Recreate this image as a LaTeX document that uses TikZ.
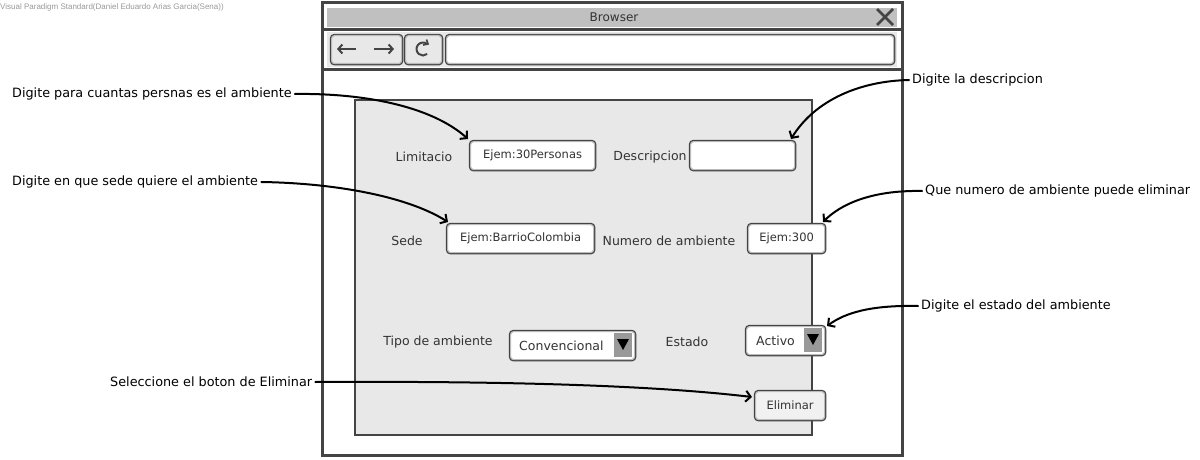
\documentclass[tikz,border=0pt]{standalone}
\usepackage{fontspec}
\setmainfont{DejaVu Sans}
\newfontfamily\wmfont{Liberation Sans}
\usetikzlibrary{arrows.meta}
\definecolor{frame}{HTML}{444444}
\definecolor{panel}{HTML}{E8E8E8}
\definecolor{titlebar}{HTML}{C0C0C0}
\definecolor{lightb}{HTML}{BBBBBB}
\definecolor{txt}{HTML}{333333}
\definecolor{ddgray}{HTML}{999999}
\begin{document}
\begin{tikzpicture}[x=1pt,y=-1pt,
  fld/.style={draw=lightb, line width=1.2pt, rounded corners=3pt, fill=white,
    preaction={draw=frame, line width=3.6pt}, inner sep=0pt, anchor=north west},
  lbl/.style={font=\fontsize{12.5}{15}\selectfont, text=txt, inner sep=1pt},
  ftxt/.style={font=\fontsize{11.5}{14}\selectfont, text=txt, inner sep=1pt},
  note/.style={font=\fontsize{12.8}{15}\selectfont, text=black, inner sep=3pt},
  conn/.style={draw=black, line width=2pt, line cap=round,
    -{Straight Barb[length=5pt,width=11pt,line width=2pt]}},
  tri/.style={fill=black}
]
\useasboundingbox (0,0) rectangle (1200,460);
\fill[white] (0,0) rectangle (1200,460);

% watermark
\node[anchor=west, inner sep=0pt, text=ddgray, font=\wmfont\fontsize{8}{9}\selectfont] (wm) at (0,7) {Visual Paradigm Standard(Daniel Eduardo Arias Garcia(Sena))};

% browser frame
\draw[frame, line width=3pt] (322,3) rectangle (902,455);
\fill[titlebar] (327,8) rectangle (897,27);
\node[font=\fontsize{12}{14}\selectfont, text=txt] (title) at (614,17) {Browser};
\draw[frame, line width=2.5pt] (877,9) -- (893,25) (893,9) -- (877,25);
\draw[frame, line width=3pt] (322,29.5) -- (902,29.5);
\fill[panel] (327,32) rectangle (897,67);
\draw[frame, line width=3pt] (322,69.5) -- (902,69.5);

% toolbar
\node[fld, fill=panel, minimum width=70pt, minimum height=28pt] (nav) at (331,35) {};
\draw[frame, line width=2pt, -{Straight Barb[length=4pt,width=9pt,line width=2pt]}] (356,49) -- (337,49);
\draw[frame, line width=2pt, -{Straight Barb[length=4pt,width=9pt,line width=2pt]}] (374,49) -- (394,49);
\node[fld, fill=panel, minimum width=36pt, minimum height=28pt] (refresh) at (405,35) {};
\draw[frame, line width=2pt] (423,49) ++(-50:6.5) arc[start angle=-50, end angle=-310, radius=6.5];
\draw[frame, line width=1.6pt] (426.5,39.5) -- (428,44) -- (423,45);
\node[fld, minimum width=447pt, minimum height=28pt] (addr) at (446,35) {};

% content panel
\draw[frame, line width=2pt, fill=panel] (355,100) rectangle (812,435);

% row 1
\node[lbl] (lLim) at (424,157) {Limitacio};
\node[fld, minimum width=124pt, minimum height=28pt] (fLim) at (470,141) {};
\node[ftxt] at (fLim.center) {Ejem:30Personas};
\node[lbl] (lDes) at (650,157) {Descripcion};
\node[fld, minimum width=104pt, minimum height=28pt] (fDes) at (690,141) {};

% row 2
\node[lbl] (lSed) at (407,241) {Sede};
\node[fld, minimum width=146pt, minimum height=28pt] (fSed) at (447,224) {};
\node[ftxt] at (fSed.center) {Ejem:BarrioColombia};
\node[lbl] (lNum) at (669,241) {Numero de ambiente};
\node[fld, minimum width=76pt, minimum height=28pt] (fNum) at (748,224) {};
\node[ftxt] at (fNum.center) {Ejem:300};

% row 3
\node[lbl] (lTip) at (438,342) {Tipo de ambiente};
\node[fld, minimum width=124pt, minimum height=28pt] (fTip) at (510,331) {};
\fill[ddgray] (614,333) rectangle (632,357);
\fill[tri] (617,339) -- (629,339) -- (623,350) -- cycle;
\node[lbl, anchor=west] at (518,346) {Convencional};
\node[lbl] (lEst) at (687,342) {Estado};
\node[fld, minimum width=78pt, minimum height=28pt] (fEst) at (746,326) {};
\fill[ddgray] (804,328) rectangle (822,352);
\fill[tri] (807,334) -- (819,334) -- (813,345) -- cycle;
\node[lbl, anchor=west] at (755,341) {Activo};

% button
\node[fld, fill=panel!60!white, minimum width=69pt, minimum height=28pt] (bEli) at (755,391) {};
\node[ftxt] at (bEli.center) {Eliminar};

% annotations
\node[note, anchor=west] (n1) at (9,94) {Digite para cuantas persnas es el ambiente};
\node[note, anchor=west] (n2) at (9,182) {Digite en que sede quiere el ambiente};
\node[note, anchor=west] (n3) at (107,382) {Seleccione el boton de Eliminar};
\node[note, anchor=west] (n4) at (909,80) {Digite la descripcion};
\node[note, anchor=west] (n5) at (922,191) {Que numero de ambiente puede eliminar};
\node[note, anchor=west] (n6) at (918,306) {Digite el estado del ambiente};

\coordinate (t1) at (468,139);
\coordinate (t2) at (448,222);
\coordinate (t3) at (752,397);
\coordinate (t4) at (791,139);
\coordinate (t5) at (823,222);
\coordinate (t6) at (827,326);

\draw[conn] (n1.east) .. controls (360,93) and (430,105) .. (t1);
\draw[conn] (n2.east) .. controls (330,183) and (405,195) .. (t2);
\draw[conn] (n3.east) .. controls (500,381) and (650,385) .. (t3);
\draw[conn] (n4.west) .. controls (860,81) and (815,100) .. (t4);
\draw[conn] (n5.west) .. controls (870,190) and (840,205) .. (t5);
\draw[conn] (n6.west) .. controls (870,305) and (845,313) .. (t6);
\end{tikzpicture}
\end{document}
